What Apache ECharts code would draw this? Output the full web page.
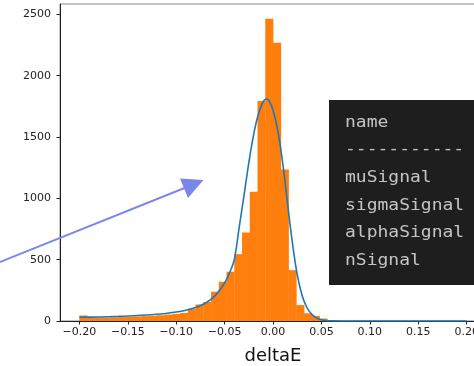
<!DOCTYPE html>
<html>
<head>
<meta charset="utf-8">
<script src="https://cdn.jsdelivr.net/npm/echarts@6/dist/echarts.min.js"></script>
<style>html,body{margin:0;padding:0;background:#fff}#c{width:474px;height:366px}</style>
</head>
<body>
<div id="c"></div>
<script>
// Histogram bins (left edges, width 0.008) and counts
const binStart = -0.2;
const binWidth = 0.008;
const binCounts = [45, 28, 27, 28, 30, 32, 34, 37, 40, 43, 47, 52, 58, 66, 100, 135, 155, 239, 320, 402, 545, 722, 1053, 1794, 2465, 2270, 1235, 415, 130, 63, 41, 20, 6, 2];
// Fitted curve
const curveX = [-0.20, -0.18, -0.16, -0.14, -0.12, -0.10, -0.09, -0.08, -0.07, -0.06, -0.05, -0.045, -0.04, -0.035, -0.03, -0.025, -0.02, -0.015, -0.01, -0.007, -0.004, 0.0, 0.005, 0.01, 0.015, 0.02, 0.025, 0.03, 0.035, 0.04, 0.045, 0.05, 0.055, 0.06, 0.07, 0.10, 0.15, 0.20];
const curveY = [30, 33, 38, 45, 55, 74, 88, 110, 145, 205, 310, 390, 500, 760, 1020, 1290, 1520, 1690, 1790, 1810, 1795, 1720, 1550, 1290, 960, 640, 380, 210, 110, 55, 25, 10, 3, 1, 0, 0, 0, 0];
// Axis ticks
const xTicks = [-0.20, -0.15, -0.10, -0.05, 0.00, 0.05, 0.10, 0.15, 0.20];
const yTicks = [0, 500, 1000, 1500, 2000, 2500];
// Overlay text
const panelLines = ['name', '-----------', 'muSignal', 'sigmaSignal', 'alphaSignal', 'nSignal'];

const barData = binCounts.map((c, i) => [binStart + i * binWidth, binStart + (i + 1) * binWidth, c]);
const lineData = curveX.map((x, i) => [x, curveY[i]]);

const chart = echarts.init(document.getElementById('c'), null, {renderer: 'canvas'});
const fmtX = v => (v < 0 ? '\u2212' : '') + Math.abs(v).toFixed(2);
const panelY = [123, 150, 178.5, 206, 233.5, 261];

chart.setOption({
  animation: false,
  grid: {left: 60, top: 4, width: 426, height: 317, outerBoundsMode: 'none', containLabel: false, show: true, borderColor: '#888', borderWidth: 1, backgroundColor: 'transparent'},
  xAxis: {
    type: 'value', min: -0.22, max: 0.22,
    name: 'deltaE', nameLocation: 'middle', nameGap: 26,
    nameTextStyle: {fontFamily: 'DejaVu Sans', fontSize: 18, color: '#111'},
    axisLine: {onZero: false, lineStyle: {color: '#222', width: 1}},
    axisTick: {show: true, length: 3.5, inside: false, customValues: xTicks, lineStyle: {color: '#222'}},
    axisLabel: {customValues: xTicks, formatter: fmtX, fontFamily: 'DejaVu Sans', fontSize: 11, color: '#222', margin: 6},
    splitLine: {show: false}
  },
  yAxis: {
    type: 'value', min: 0, max: 2585,
    axisLine: {show: true, onZero: false, lineStyle: {color: '#222', width: 1}},
    axisTick: {show: true, length: 3.5, customValues: yTicks, lineStyle: {color: '#222'}},
    axisLabel: {customValues: yTicks, formatter: v => String(v), fontFamily: 'DejaVu Sans', fontSize: 11, color: '#222', margin: 9},
    splitLine: {show: false}
  },
  series: [
    {
      type: 'custom',
      data: barData,
      encode: {x: [0, 1], y: 2},
      renderItem: function (params, api) {
        const p0 = api.coord([api.value(0), 0]);
        const p1 = api.coord([api.value(1), api.value(2)]);
        return {type: 'rect', shape: {x: p0[0], y: p1[1], width: p1[0] - p0[0] + 0.4, height: p0[1] - p1[1]}, style: {fill: '#ff7f0e'}};
      },
      z: 2
    },
    {
      type: 'line', data: lineData, smooth: 0.35, showSymbol: false,
      lineStyle: {color: '#1f77b4', width: 1.6}, z: 3
    }
  ],
  graphic: [
    {type: 'rect', shape: {x: 329, y: 100, width: 150, height: 185}, style: {fill: '#1e1e1e'}, z: 10},
    ...panelLines.map((t, i) => ({
      type: 'text', x: 345, y: panelY[i], scaleX: 1.2,
      style: {text: t, font: '15px "DejaVu Sans Mono"', fill: '#c4c4c4', verticalAlign: 'middle', textAlign: 'left'}, z: 11
    })),
    {type: 'line', shape: {x1: -5, y1: 264, x2: 192, y2: 185}, style: {stroke: '#7b86ea', lineWidth: 2}, z: 12},
    {type: 'polygon', shape: {points: [[203.5, 180], [180, 178.5], [188, 198]]}, style: {fill: '#7b86ea'}, z: 12}
  ]
});
</script>
</body>
</html>
